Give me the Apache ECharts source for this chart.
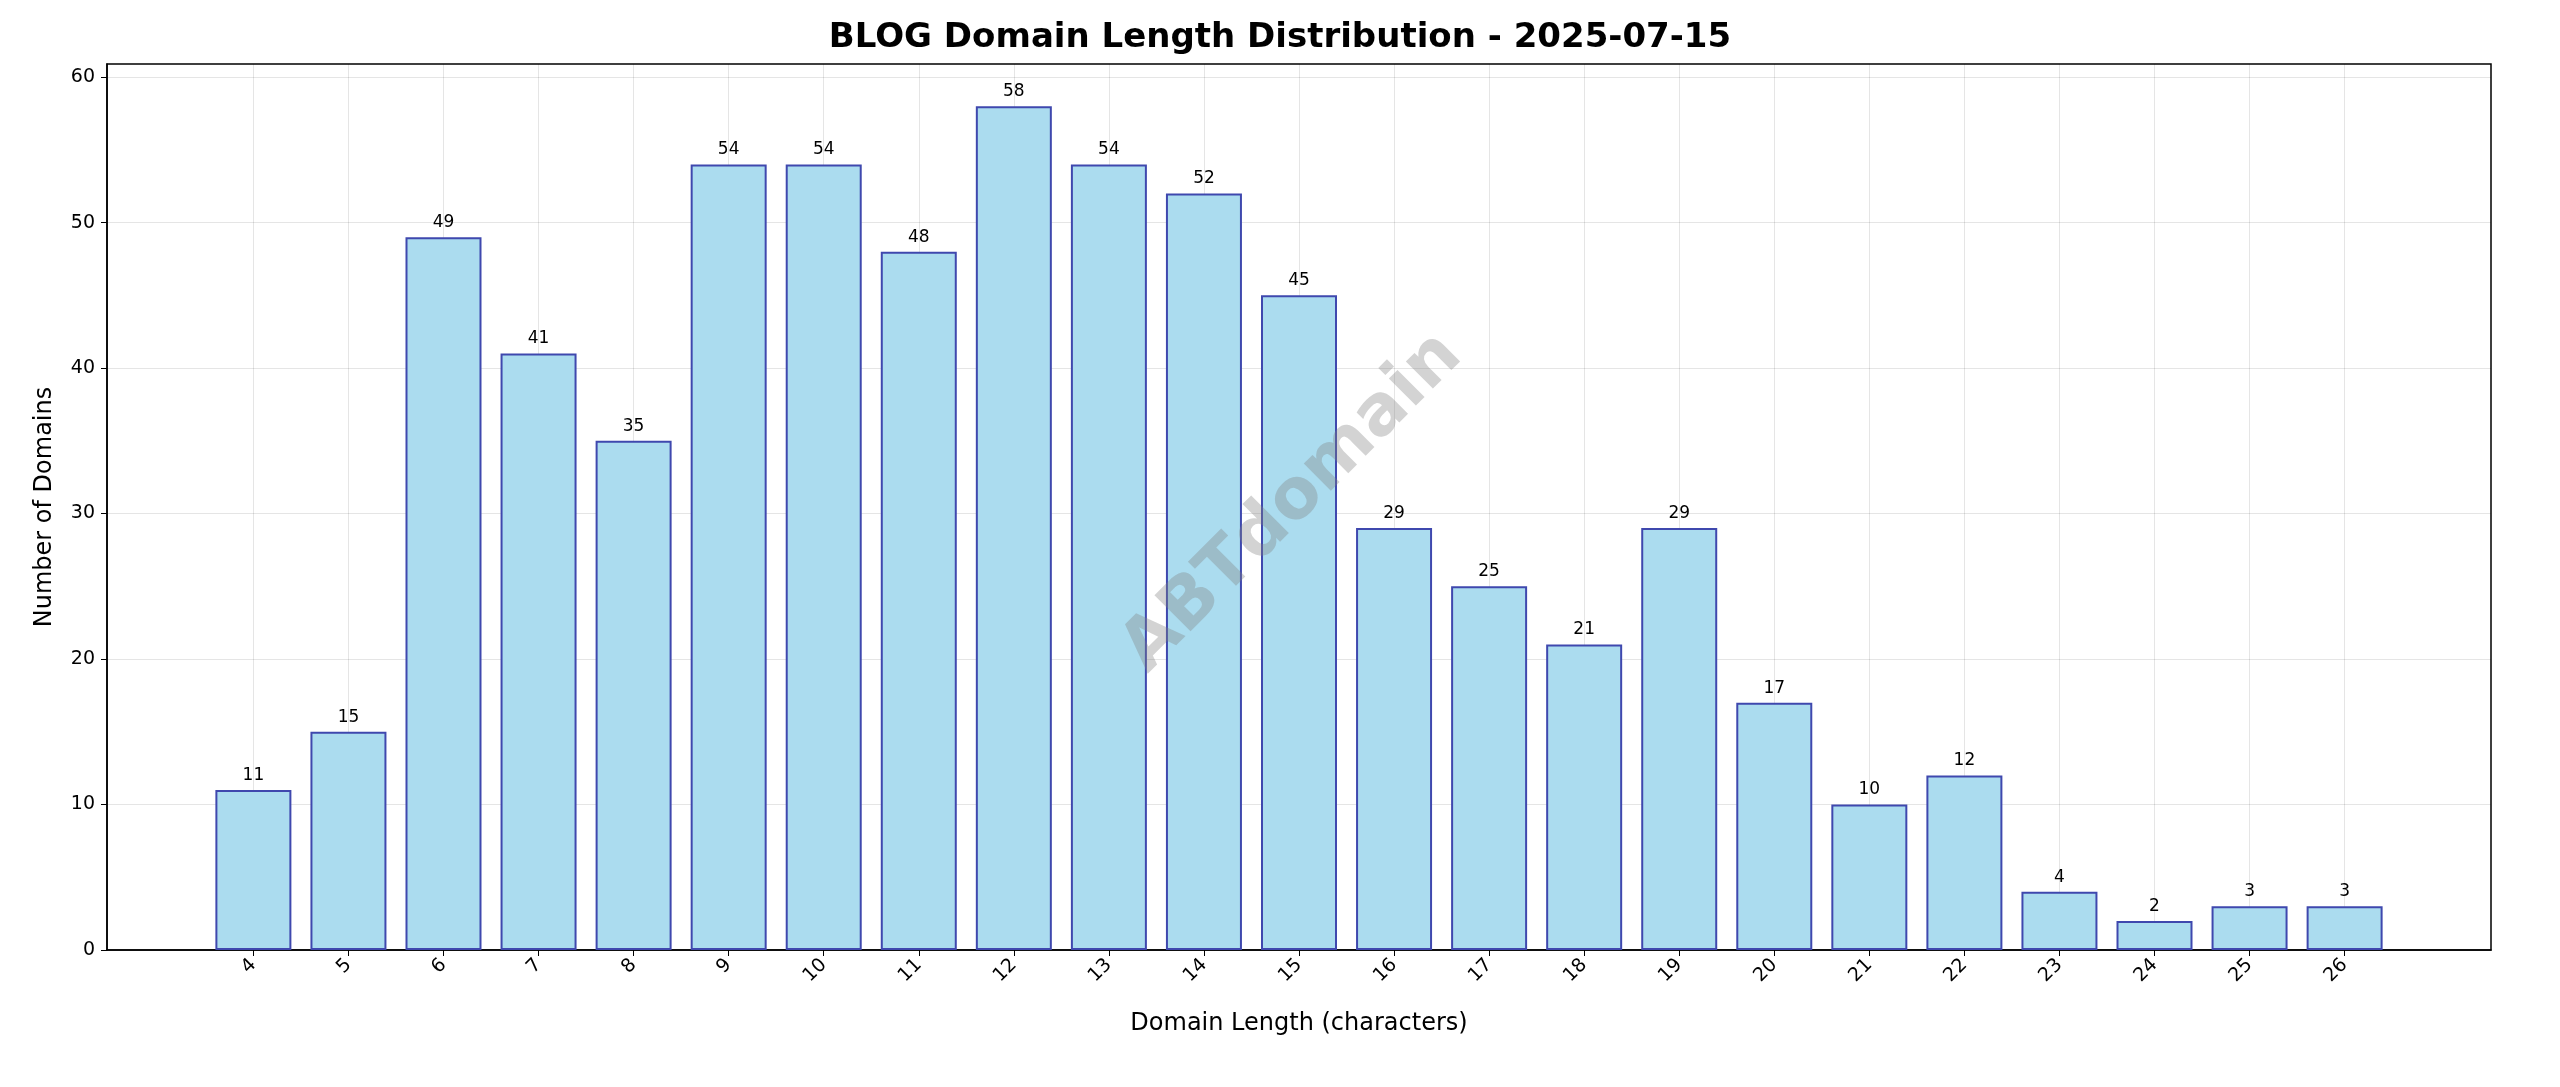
<!DOCTYPE html>
<html>
<head>
<meta charset="utf-8">
<script src="https://cdn.jsdelivr.net/npm/echarts@6/dist/echarts.min.js"></script>
<style>html,body{margin:0;padding:0;background:#fff}#chart{width:2560px;height:1087px}</style>
</head>
<body>
<div id="chart"></div>
<script>
const lengths = [4,5,6,7,8,9,10,11,12,13,14,15,16,17,18,19,20,21,22,23,24,25,26];
const counts = [11,15,49,41,35,54,54,48,58,54,52,45,29,25,21,29,17,10,12,4,2,3,3];
const yTicks = [0,10,20,30,40,50,60];

let chart = echarts.init(document.getElementById('chart'));
let option = {
    backgroundColor: '#fff',
    animation: false,
    title: {
        text: 'BLOG Domain Length Distribution - 2025-07-15',
        left: 'center', top: 16,
        textStyle: { fontFamily: 'DejaVu Sans', fontSize: 34, fontWeight: 'bold', color: '#000' }
    },
    grid: { left: 107, right: 69, top: 64, bottom: 137 },
    graphic: [{
        type: 'text', left: 1110, top: 320, rotation: Math.PI / 4, z: 100,
        style: { text: 'ABTdomain', font: 'bold 70px DejaVu Sans', fill: 'rgba(128,128,128,0.35)' }
    }, {
        type: 'rect', shape: { x: 107, y: 64, width: 2560 - 107 - 69, height: 1087 - 64 - 137 },
        style: { fill: 'none', stroke: '#000', lineWidth: 1.5 }, silent: true
    }],
    xAxis: {
        type: 'value', min: 2.46, max: 27.54,
        name: 'Domain Length (characters)', nameLocation: 'middle', nameGap: 62,
        nameTextStyle: { fontFamily: 'DejaVu Sans', fontSize: 24, color: '#000' },
        axisLine: { onZero: false, lineStyle: { color: '#000', width: 1.5 } },
        axisTick: { customValues: lengths, length: 6, lineStyle: { color: '#000' } },
        axisLabel: { customValues: lengths, rotate: 45, fontFamily: 'DejaVu Sans', fontSize: 19, color: '#000', margin: 12 },
        splitLine: { show: true, lineStyle: { color: 'rgba(0,0,0,0.1)' } }
    },
    yAxis: {
        type: 'value', min: 0, max: 60.9,
        name: 'Number of Domains', nameLocation: 'middle', nameGap: 50,
        nameTextStyle: { fontFamily: 'DejaVu Sans', fontSize: 24, color: '#000' },
        axisLine: { show: true, lineStyle: { color: '#000', width: 1.5 } },
        axisTick: { show: true, customValues: yTicks, length: 6, lineStyle: { color: '#000' } },
        axisLabel: { customValues: yTicks, fontFamily: 'DejaVu Sans', fontSize: 19, color: '#000', margin: 12 },
        splitLine: { show: true, customValues: yTicks, lineStyle: { color: 'rgba(0,0,0,0.1)' } }
    },
    series: [{
        type: 'bar',
        data: lengths.map((l, i) => [l, counts[i]]),
        barWidth: 76,
        itemStyle: { color: '#ABDCEF', borderColor: '#3F48AE', borderWidth: 2 },
        label: { show: true, position: 'top', distance: 6, fontFamily: 'DejaVu Sans', fontSize: 17, color: '#000' }
    }]
};
chart.setOption(option);
</script>
</body>
</html>
